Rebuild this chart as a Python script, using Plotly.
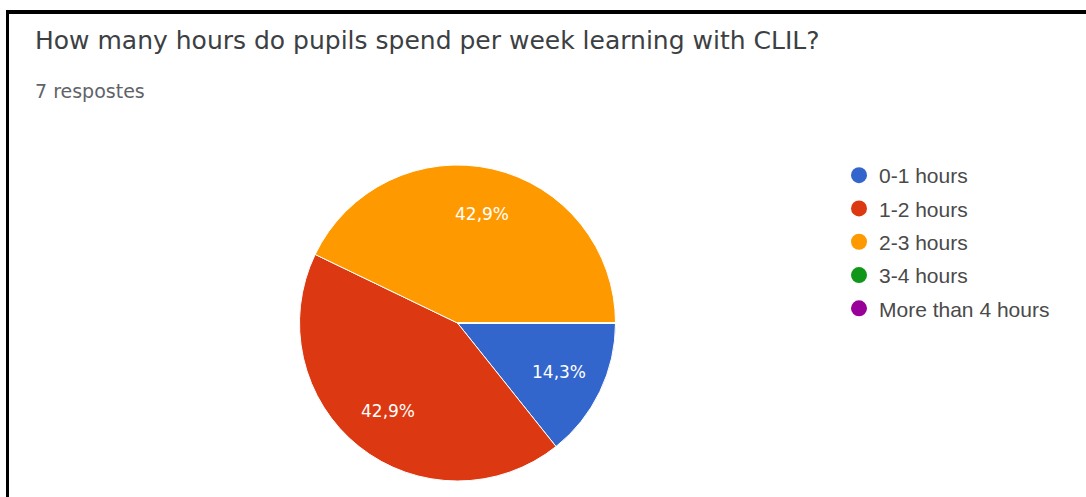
import math
import plotly.graph_objects as go

# Survey answers
categories = ["0-1 hours", "1-2 hours", "2-3 hours", "3-4 hours", "More than 4 hours"]
responses = [1, 3, 3, 0, 0]
colors = ["#3366cc", "#dc3912", "#ff9900", "#109618", "#990099"]
title_text = "How many hours do pupils spend per week learning with CLIL?"
subtitle_text = "7 respostes"

W, H = 1086, 497

# Pie placement in pixels
PIE_CX, PIE_CY, PIE_R = 457.5, 323.0, 158.0
START_DEG = 90  # first slice starts at 3 o'clock, going clockwise
LABEL_RADIUS = 0.71


def fx(px):
    """Horizontal pixel -> paper fraction."""
    return px / W


def fy(px):
    """Vertical pixel (from top) -> paper fraction."""
    return 1 - px / H


fig = go.Figure()

fig.add_trace(go.Pie(
    labels=categories,
    values=responses,
    sort=False,
    direction="clockwise",
    rotation=START_DEG,
    marker=dict(colors=colors, line=dict(color="white", width=1)),
    textinfo="none",
    showlegend=False,
    hoverinfo="label+percent",
    domain=dict(x=[fx(PIE_CX - PIE_R), fx(PIE_CX + PIE_R)],
                y=[fy(PIE_CY + PIE_R), fy(PIE_CY - PIE_R)]),
))

# Percentage labels placed at each slice's mid-angle
total = sum(responses)
annotations = []
cum = 0
for v in responses:
    if v > 0:
        mid = START_DEG + 360 * (cum + v / 2) / total  # clockwise from 12 o'clock
        a = math.radians(mid)
        lx = PIE_CX + LABEL_RADIUS * PIE_R * math.sin(a)
        ly = PIE_CY - LABEL_RADIUS * PIE_R * math.cos(a)
        annotations.append(dict(
            text=f"{100 * v / total:.1f}%".replace(".", ","),
            x=fx(lx), y=fy(ly), xref="paper", yref="paper",
            xanchor="center", yanchor="middle", showarrow=False,
            font=dict(family="DejaVu Sans", size=17, color="white"),
        ))
    cum += v

# Legend entries drawn with round markers
for cat, col in zip(categories, colors):
    fig.add_trace(go.Scatter(
        x=[None], y=[None], mode="markers", name=cat, legendgroup=cat,
        marker=dict(color=col, size=16, symbol="circle"),
        showlegend=True, hoverinfo="skip",
    ))

annotations += [
    dict(text=title_text, x=fx(33), y=fy(41), xref="paper", yref="paper",
         xanchor="left", yanchor="middle", showarrow=False,
         font=dict(family="DejaVu Sans", size=25, color="#3c4043")),
    dict(text=subtitle_text, x=fx(33), y=fy(91), xref="paper", yref="paper",
         xanchor="left", yanchor="middle", showarrow=False,
         font=dict(family="DejaVu Sans", size=19, color="#5f6368")),
]

fig.update_layout(
    width=W, height=H,
    margin=dict(l=0, r=0, t=0, b=0),
    paper_bgcolor="white", plot_bgcolor="white",
    xaxis=dict(visible=False), yaxis=dict(visible=False),
    legend=dict(
        x=fx(839), y=fy(155), xanchor="left", yanchor="top",
        font=dict(family="Liberation Sans", size=21, color="#4a4a4a"),
        tracegroupgap=3, bgcolor="rgba(0,0,0,0)", itemclick=False,
        itemdoubleclick=False,
    ),
    annotations=annotations,
    shapes=[
        dict(type="line", xref="paper", yref="paper", x0=fx(7.5), x1=1, y0=fy(12), y1=fy(12),
             line=dict(color="black", width=4)),
        dict(type="line", xref="paper", yref="paper", x0=fx(7.5), x1=fx(7.5), y0=fy(10), y1=0,
             line=dict(color="black", width=3)),
    ],
)

fig.write_html("out.html")
